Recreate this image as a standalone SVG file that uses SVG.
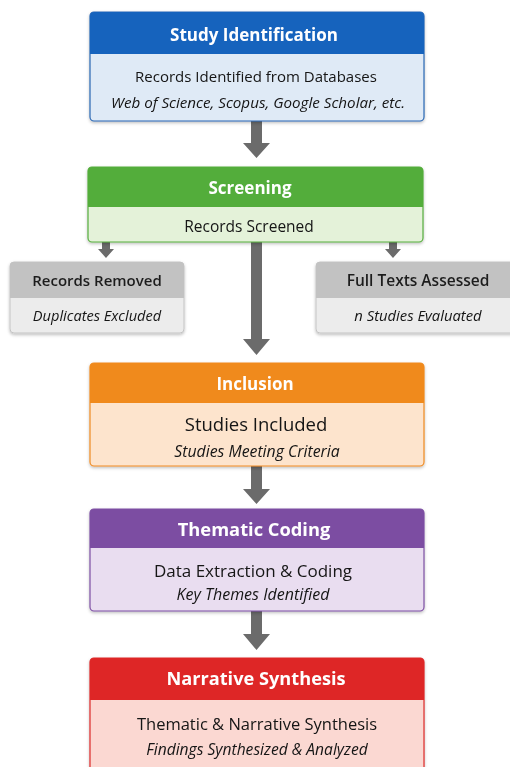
<svg xmlns="http://www.w3.org/2000/svg" width="510" height="767" viewBox="0 0 510 767">
  <defs>
    <filter id="shadow" x="-5%" y="-5%" width="110%" height="120%">
      <feDropShadow dx="0" dy="1.5" stdDeviation="1.5" flood-color="#000" flood-opacity="0.25"/>
    </filter>
  </defs>
  <style>
    .hd { font-family: "Open Sans", "Liberation Sans", sans-serif; font-weight: 700; fill: #ffffff; text-anchor: middle; }
    .hdk { font-family: "Open Sans", "Liberation Sans", sans-serif; font-weight: 600; fill: #1e1e1e; text-anchor: middle; }
    .tx { font-family: "Open Sans", "Liberation Sans", sans-serif; font-weight: 500; fill: #151515; text-anchor: middle; }
    .it { font-family: "Open Sans", "Liberation Sans", sans-serif; font-weight: 500; font-style: italic; fill: #151515; text-anchor: middle; }
    .arrow { fill: #6b6b6b; }
  </style>

  <!-- connectors -->
  <g id="connectors">
    <polygon class="arrow" points="251,121 262,121 262,143 270,143 256.5,158 243,143 251,143"/>
    <polygon class="arrow" points="251,242 262,242 262,339 270,339 256.5,355 243,339 251,339"/>
    <polygon class="arrow" points="102,242 110,242 110,249 114,249 106,258 98,249 102,249"/>
    <polygon class="arrow" points="389,242 397,242 397,249 401,249 393,258 385,249 389,249"/>
    <polygon class="arrow" points="251,466 262,466 262,489 270,489 256.5,504 243,489 251,489"/>
    <polygon class="arrow" points="251,611 262,611 262,634 270,634 256.5,650 243,634 251,634"/>
  </g>

  <!-- Study Identification -->
  <g id="study-identification" filter="url(#shadow)">
    <rect x="90" y="12" width="334" height="109" rx="4" fill="#dfeaf6" stroke="#2a67b3" stroke-width="1.2"/>
    <path d="M94,12 H420 A4,4 0 0 1 424,16 V54 H90 V16 A4,4 0 0 1 94,12 Z" fill="#1863bd"/>
    <text class="hd" x="254" y="41" font-size="17">Study Identification</text>
    <text class="tx" x="256" y="82" font-size="15">Records Identified from Databases</text>
    <text class="it" x="258" y="108" font-size="15.2">Web of Science, Scopus, Google Scholar, etc.</text>
  </g>

  <!-- Screening -->
  <g id="screening" filter="url(#shadow)">
    <rect x="88" y="167" width="335" height="75" rx="4" fill="#e4f2d9" stroke="#56ad3e" stroke-width="1.2"/>
    <path d="M92,167 H419 A4,4 0 0 1 423,171 V207 H88 V171 A4,4 0 0 1 92,167 Z" fill="#52ad3b"/>
    <text class="hd" x="250" y="194" font-size="17">Screening</text>
    <text class="tx" x="249" y="232" font-size="15.5">Records Screened</text>
  </g>

  <!-- Records Removed -->
  <g id="records-removed" filter="url(#shadow)">
    <rect x="10" y="262" width="174" height="71" rx="4" fill="#ececec" stroke="#c4c4c4" stroke-width="1"/>
    <path d="M14,262 H180 A4,4 0 0 1 184,266 V298 H10 V266 A4,4 0 0 1 14,262 Z" fill="#c2c2c2"/>
    <text class="hdk" x="97" y="286" font-size="15">Records Removed</text>
    <text class="it" x="97" y="321" font-size="14.6">Duplicates Excluded</text>
  </g>

  <!-- Full Texts Assessed -->
  <g id="full-texts-assessed" filter="url(#shadow)">
    <rect x="316" y="262" width="206" height="71" rx="4" fill="#ececec" stroke="#c4c4c4" stroke-width="1"/>
    <path d="M320,262 H518 A4,4 0 0 1 522,266 V298 H316 V266 A4,4 0 0 1 320,262 Z" fill="#c2c2c2"/>
    <text class="hdk" x="418" y="286" font-size="15.5">Full Texts Assessed</text>
    <text class="it" x="418" y="321" font-size="14.8">n Studies Evaluated</text>
  </g>

  <!-- Inclusion -->
  <g id="inclusion" filter="url(#shadow)">
    <rect x="90" y="363" width="334" height="103" rx="4" fill="#fde4cd" stroke="#ef8a22" stroke-width="1.2"/>
    <path d="M94,363 H420 A4,4 0 0 1 424,367 V403 H90 V367 A4,4 0 0 1 94,363 Z" fill="#f08a1c"/>
    <text class="hd" x="255" y="390" font-size="17">Inclusion</text>
    <text class="tx" x="256" y="431" font-size="18.5">Studies Included</text>
    <text class="it" x="257" y="457" font-size="15.8">Studies Meeting Criteria</text>
  </g>

  <!-- Thematic Coding -->
  <g id="thematic-coding" filter="url(#shadow)">
    <rect x="90" y="509" width="334" height="102" rx="4" fill="#e9ddf0" stroke="#7d4fa3" stroke-width="1.2"/>
    <path d="M94,509 H420 A4,4 0 0 1 424,513 V548 H90 V513 A4,4 0 0 1 94,509 Z" fill="#7c4ea2"/>
    <text class="hd" x="254" y="536" font-size="18.3">Thematic Coding</text>
    <text class="tx" x="253" y="577" font-size="17">Data Extraction &amp; Coding</text>
    <text class="it" x="253" y="600" font-size="16">Key Themes Identified</text>
  </g>

  <!-- Narrative Synthesis -->
  <g id="narrative-synthesis" filter="url(#shadow)">
    <rect x="90" y="658" width="334" height="120" rx="4" fill="#fbd8d2" stroke="#dd2a2a" stroke-width="1.2"/>
    <path d="M94,658 H420 A4,4 0 0 1 424,662 V700 H90 V662 A4,4 0 0 1 94,658 Z" fill="#de2626"/>
    <text class="hd" x="256" y="685" font-size="18.2">Narrative Synthesis</text>
    <text class="tx" x="257" y="730" font-size="16.5">Thematic &amp; Narrative Synthesis</text>
    <text class="it" x="257" y="755" font-size="15.6">Findings Synthesized &amp; Analyzed</text>
  </g>
</svg>
